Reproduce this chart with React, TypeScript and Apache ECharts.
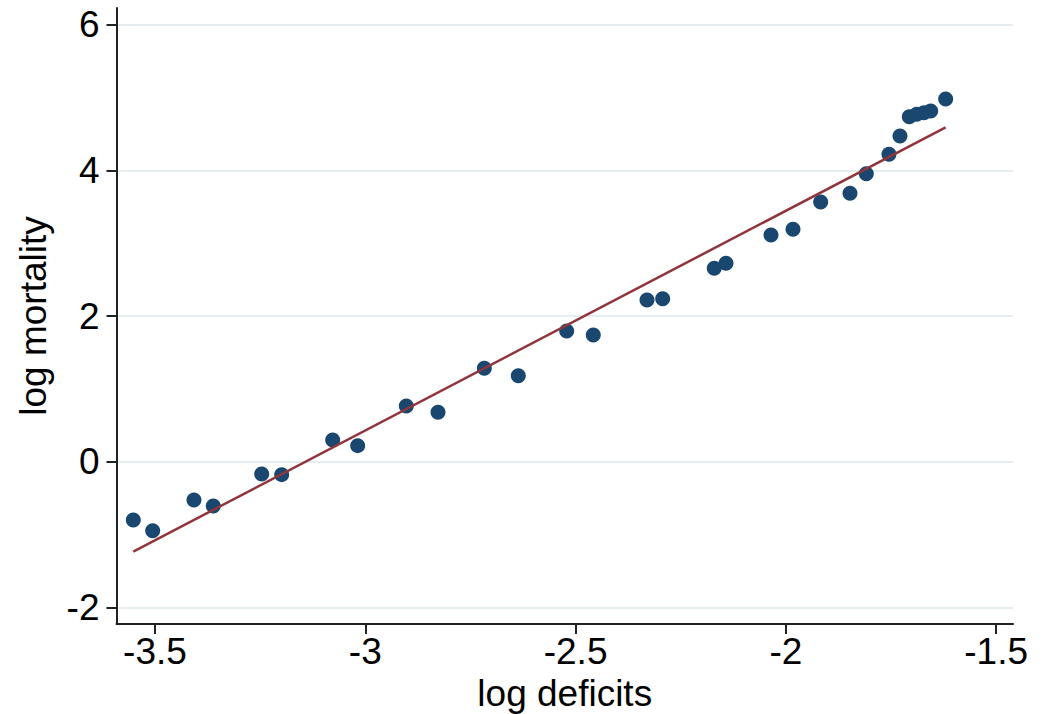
import React, { useEffect, useRef } from "react";
import * as echarts from "echarts";

const logDeficits = [
  -3.5516, -3.5055, -3.4073, -3.3614, -3.2463, -3.1988, -3.0775, -3.0181,
  -2.9025, -2.8271, -2.717, -2.6362, -2.5212, -2.4579, -2.3302, -2.2929,
  -2.1703, -2.1424, -2.0354, -1.9831, -1.9173, -1.8476, -1.8088, -1.7549,
  -1.7287, -1.7066, -1.689, -1.6717, -1.6557, -1.6201,
];
const logMortality = [
  -0.796, -0.943, -0.521, -0.604, -0.165, -0.174, 0.302, 0.224,
  0.768, 0.682, 1.286, 1.184, 1.797, 1.743, 2.223, 2.241,
  2.658, 2.726, 3.115, 3.193, 3.567, 3.687, 3.956, 4.222,
  4.473, 4.738, 4.771, 4.793, 4.816, 4.981,
];
const fitX = [-3.5516, -1.6201];
const fitY = [-1.231, 4.593];
const xTicks = [-3.5, -3, -2.5, -2, -1.5];
const yTicks = [-2, 0, 2, 4, 6];

const FONT = "Liberation Sans, Arial, sans-serif";
const AXIS_COLOR = "#222222";

export default function App() {
  const ref = useRef<HTMLDivElement>(null);
  useEffect(() => {
    if (!ref.current) return;
    const chart = echarts.init(ref.current, null, { renderer: "svg" });
    const scatterData = logDeficits.map((x, i) => [x, logMortality[i]]);
    const fitData = fitX.map((x, i) => [x, fitY[i]]);
    chart.setOption({
      animation: false,
      backgroundColor: "#ffffff",
      grid: {
        left: 116.5,
        right: 30,
        top: 8,
        bottom: 90,
        containLabel: false,
        outerBoundsMode: "none",
      },
      xAxis: {
        type: "value",
        min: -3.5915,
        max: -1.46,
        name: "log deficits",
        nameLocation: "middle",
        nameGap: 51,
        nameTextStyle: { fontSize: 37, color: "#000", fontFamily: FONT },
        axisLine: { onZero: false, lineStyle: { color: AXIS_COLOR, width: 2 } },
        axisTick: {
          show: true,
          inside: false,
          length: 10,
          customValues: xTicks,
          lineStyle: { color: AXIS_COLOR, width: 2 },
        },
        axisLabel: {
          customValues: xTicks,
          fontSize: 37,
          margin: 9,
          color: "#000",
          fontFamily: FONT,
        },
        splitLine: { show: false },
      },
      yAxis: {
        type: "value",
        min: -2.224,
        max: 6.23,
        name: "log mortality",
        nameLocation: "middle",
        nameGap: 65,
        nameTextStyle: { fontSize: 37, color: "#000", fontFamily: FONT },
        axisLine: { show: true, onZero: false, lineStyle: { color: AXIS_COLOR, width: 2 } },
        axisTick: {
          show: true,
          inside: false,
          length: 10,
          customValues: yTicks,
          lineStyle: { color: AXIS_COLOR, width: 2 },
        },
        axisLabel: {
          customValues: yTicks,
          fontSize: 37,
          margin: 17,
          color: "#000",
          fontFamily: FONT,
        },
        splitLine: { show: true, lineStyle: { color: "#e4edf0", width: 2 } },
      },
      series: [
        {
          type: "scatter",
          data: scatterData,
          symbol: "circle",
          symbolSize: 15,
          itemStyle: { color: "#1a476f", opacity: 1 },
          z: 2,
        },
        {
          type: "line",
          data: fitData,
          showSymbol: false,
          symbol: "none",
          lineStyle: { color: "#90353b", width: 2.5 },
          z: 3,
        },
      ],
    });
    return () => chart.dispose();
  }, []);
  return (
    <div
      ref={ref}
      style={{ position: "absolute", left: 0, top: 0, width: 1043, height: 714 }}
    />
  );
}
